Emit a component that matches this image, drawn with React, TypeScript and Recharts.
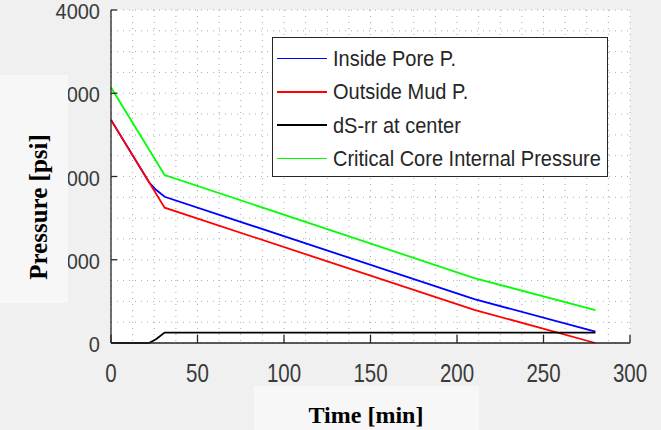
import { LineChart, Line, XAxis, YAxis, CartesianGrid, Legend } from 'recharts'

// values (time in min, pressure in psi)
const poreTime = [0, 22, 26, 31, 210, 280]
const porePsi = [2680, 1930, 1840, 1757, 527, 136]

const mudTime = [0, 31, 210, 280]
const mudPsi = [2680, 1625, 399, 0]

const dsTime = [0, 22, 26, 31, 280]
const dsPsi = [0, 0, 45, 125, 125]

const critTime = [0, 31, 210, 280]
const critPsi = [3070, 2018, 780, 396]

const timeTicks = [0, 50, 100, 150, 200, 250, 300]
const psiTicks = [0, 1000, 2000, 3000, 4000]
// minor grid, 4 steps per major tick
const gridTime = Array.from({ length: 25 }, (_, i) => i * 12.5)
const gridPsi = Array.from({ length: 17 }, (_, i) => i * 250)

const toRows = (t: number[], v: number[]) => t.map((x, i) => ({ t: x, p: v[i] }))

const series = [
  { name: 'Inside Pore P.', color: '#0000ff', data: toRows(poreTime, porePsi) },
  { name: 'Outside Mud P.', color: '#ff0000', data: toRows(mudTime, mudPsi) },
  { name: 'dS-rr at center', color: '#000000', data: toRows(dsTime, dsPsi) },
  { name: 'Critical Core Internal Pressure', color: '#00ff00', data: toRows(critTime, critPsi) },
]

const SANS = "'Liberation Sans', Arial, Helvetica, sans-serif"
const SERIF = "'Liberation Serif', 'Times New Roman', serif"
const AXIS = '#262626'

function XTick({ x, y, payload }: any) {
  return (
    <text
      x={0}
      y={0}
      transform={`translate(${x},${y}) scale(1,1.25)`}
      textAnchor="middle"
      fill="#3a3a3a"
      fontSize={20.5}
      fontFamily={SANS}
    >
      {payload.value}
    </text>
  )
}

function YTick({ x, y, payload }: any) {
  return (
    <text
      x={0}
      y={0}
      transform={`translate(${x},${y + 9}) scale(1,1.1)`}
      textAnchor="end"
      fill="#3a3a3a"
      fontSize={20}
      fontFamily={SANS}
    >
      {payload.value}
    </text>
  )
}

function LegendBox() {
  return (
    <div
      style={{
        width: 336,
        height: 140,
        boxSizing: 'border-box',
        border: `1.5px solid ${AXIS}`,
        background: '#fff',
        paddingTop: 4,
      }}
    >
      {series.map(s => (
        <div key={s.name} style={{ display: 'flex', alignItems: 'center', height: 33.3 }}>
          <div style={{ width: 50, height: 1.6, background: s.color, marginLeft: 4 }} />
          <span
            style={{
              marginLeft: 6,
              fontFamily: SANS,
              fontSize: 20,
              color: '#262626',
              whiteSpace: 'nowrap',
              display: 'inline-block',
              transform: 'scaleY(1.12)',
            }}
          >
            {s.name}
          </span>
        </div>
      ))}
    </div>
  )
}

// grid lines placed through the axis scales
const gridX = ({ xAxis, offset }: any) =>
  gridTime.map(v =>
    typeof xAxis?.scale === 'function' ? xAxis.scale(v) : offset.left + (v / 300) * offset.width,
  )
const gridY = ({ yAxis, offset }: any) =>
  gridPsi.map(v =>
    typeof yAxis?.scale === 'function'
      ? yAxis.scale(v)
      : offset.top + offset.height - (v / 4000) * offset.height,
  )

export default function App() {
  return (
    <div
      style={{
        position: 'absolute',
        left: 0,
        top: 0,
        width: 661,
        height: 430,
        overflow: 'hidden',
        background: '#f0f0f0',
      }}
    >
      <LineChart width={661} height={430} margin={{ top: 10, right: 31, left: 0, bottom: 0 }}>
        <CartesianGrid
          fill="#ffffff"
          stroke="#aaaaaa"
          strokeDasharray="1 5"
          verticalCoordinatesGenerator={gridX}
          horizontalCoordinatesGenerator={gridY}
        />
        <XAxis
          dataKey="t"
          type="number"
          domain={[0, 300]}
          ticks={timeTicks}
          height={87}
          tickSize={-8}
          tickMargin={47}
          tick={<XTick />}
          axisLine={{ stroke: AXIS, strokeWidth: 1.3 }}
          tickLine={{ stroke: AXIS, strokeWidth: 1.3 }}
        />
        <YAxis
          type="number"
          domain={[0, 4000]}
          ticks={psiTicks}
          width={111}
          tickSize={-6}
          tickMargin={17}
          tick={<YTick />}
          axisLine={{ stroke: AXIS, strokeWidth: 1.3 }}
          tickLine={{ stroke: AXIS, strokeWidth: 1.3 }}
        />
        {series.map(s => (
          <Line
            key={s.name}
            data={s.data}
            dataKey="p"
            name={s.name}
            type="linear"
            stroke={s.color}
            strokeWidth={1.8}
            dot={false}
            isAnimationActive={false}
          />
        ))}
        <Legend
          layout="vertical"
          align="center"
          verticalAlign="middle"
          wrapperStyle={{ left: 272, top: 37, width: 336 }}
          content={<LegendBox />}
        />
      </LineChart>

      {/* axis titles sit in slightly lighter boxes, as in the figure */}
      <div
        style={{
          position: 'absolute',
          left: 0,
          top: 75,
          width: 68,
          height: 228,
          background: '#f7f7f7',
        }}
      >
        <div
          style={{
            position: 'absolute',
            left: 39,
            top: 132,
            transform: 'translate(-50%, -50%) rotate(-90deg)',
            whiteSpace: 'nowrap',
            fontFamily: SERIF,
            fontWeight: 'bold',
            fontSize: 25,
            color: '#000',
          }}
        >
          Pressure [psi]
        </div>
      </div>
      <div
        style={{
          position: 'absolute',
          left: 254,
          top: 386,
          width: 225,
          height: 44,
          background: '#f7f7f7',
        }}
      >
        <svg width={225} height={44} style={{ display: 'block' }}>
          <text
            x={112}
            y={37}
            textAnchor="middle"
            fontFamily={SERIF}
            fontWeight="bold"
            fontSize={24}
            fill="#000"
          >
            Time [min]
          </text>
        </svg>
      </div>
    </div>
  )
}
